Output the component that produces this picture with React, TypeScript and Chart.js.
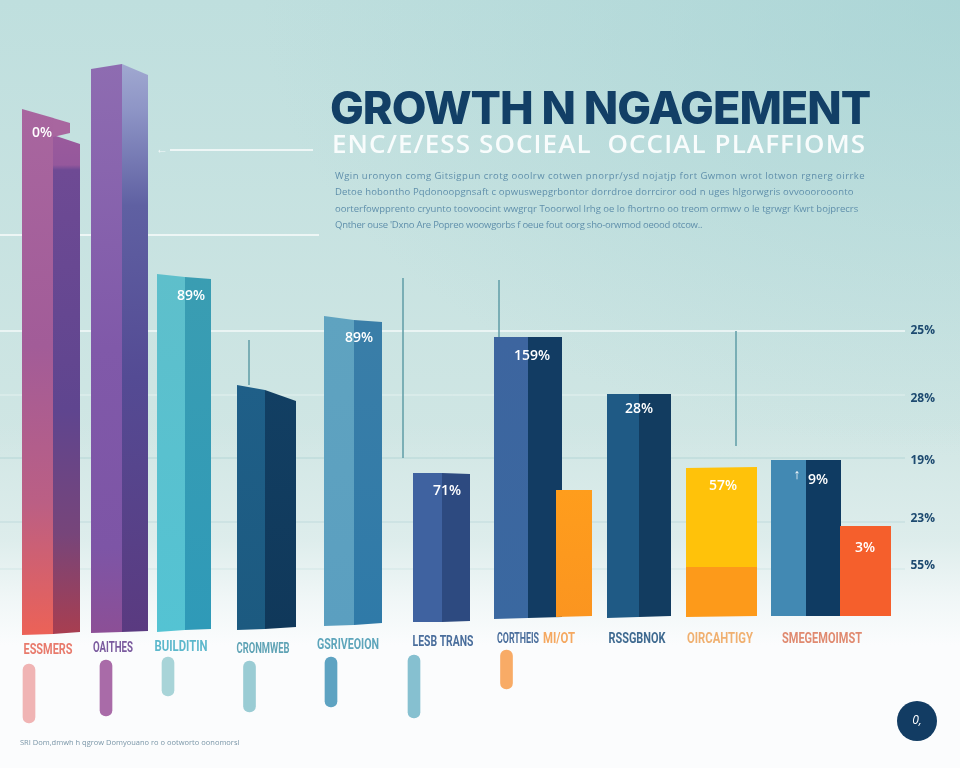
import React, { useEffect, useRef } from "react";
import { Chart, registerables } from "chart.js";

Chart.register(...registerables);

// ---- data: one entry per coloured bar face ----
const faceCenter = [37.75, 66.5, 61.5, 106.5, 135, 171, 198, 251, 280.5, 339, 368, 427.5, 456, 511, 545, 574, 623, 655, 721.5, 721.5, 788.5, 823.5, 865.5];
const faceWidth = [31.5, 27, 17, 31, 26, 28, 26, 28, 31, 30, 28, 29, 28, 34, 34, 36, 32, 32, 71, 71, 35, 35, 51];
const faceTopStart = [523, 497, 514, 563, 568, 358, 355, 247, 242, 316, 312, 159, 159, 295, 295, 142, 238, 238, 164, 65, 172, 172, 106];
const faceTopEnd = [514, 488, 509, 568, 557, 355, 353, 242, 231, 312, 310, 159, 158, 295, 295, 142, 238, 238, 165, 65, 172, 172, 106];
const faceBaseStart = [-3, -2, 495, -1, 0, 0, 2, 2, 3, 6, 7, 10, 10, 13, 14, 15, 14, 15, 65, 15, 16, 16, 16];
const faceBaseEnd = [-2, 0, 499, 0, 1, 2, 3, 3, 5, 7, 9, 10, 11, 14, 15, 16, 15, 16, 65, 16, 16, 16, 16];

const pillCenter = [29, 106, 168, 249.5, 331, 414, 506.5];
const pillTop = [-32, -28, -25, -29, -25, -23, -18];
const pillBase = [-91, -84, -64, -80, -75, -86, -57];

const tickValues = [301, 233, 171, 113, 66];
const tickLabels = ["25%", "28%", "19%", "23%", "55%"];

const ruleValues = [482, 397, 301, 237, 174, 110, 63];
const ruleStart = [170, 0, 0, 0, 0, 0, 0];
const ruleEnd = [313, 319, 905, 905, 905, 905, 905];

const stemX = [403, 499, 736, 249];
const stemTop = [354, 352, 301, 292];
const stemBase = [174, 295, 186, 247];

const categoryLabels = ["ESSMERS", "OAITHES", "BUILDITIN", "CRONMWEB", "GSRIVEOION", "LESB TRANS", "CORTHEIS", "MI/OT", "RSSGBNOK", "OIRCAHTIGY", "SMEGEMOIMST"];
const categoryX = [48, 113, 181, 263, 348, 443, 518, 559, 637, 720, 822];
const categoryY = [-18, -16, -15, -17, -13, -10, -7, -7, -7, -7, -7];
const categorySpan = [49, 40, 53, 53, 62, 61, 42, 32, 57, 66, 80];

const valueLabels = ["0%", "89%", "89%", "71%", "159%", "28%", "57%", "↑", "9%", "3%"];
const valueX = [42, 191, 359, 447, 532, 639, 723, 797, 818, 865];
const valueY = [499, 336, 294, 141, 276, 223, 146, 157, 152, 84];

const badgeX = [917];
const badgeY = [-89];

// ---- styles ----
const faceStops: [number, string][][] = [
  [[0, "#a8669f"], [0.45, "#a25c98"], [0.75, "#bb5f84"], [1, "#ec6257"]],
  [[0, "#9a5a9c"], [0.06, "#95589c"], [0.07, "#6e4a94"], [0.55, "#5f458f"], [0.8, "#77457a"], [1, "#a83e50"]],
  [[0, "#a8669f"], [1, "#a8669f"]],
  [[0, "#8e6cb1"], [0.5, "#8059a9"], [0.85, "#7d55a6"], [1, "#8c4f96"]],
  [[0, "#a0a8d0"], [0.08, "#8e95c6"], [0.25, "#5f60a2"], [0.55, "#544b94"], [1, "#5a3a80"]],
  [[0, "#5ebfcb"], [1, "#54c3d3"]],
  [[0, "#3a9db2"], [1, "#2f9ab8"]],
  [[0, "#1f5f88"], [1, "#1c5a80"]],
  [[0, "#123f63"], [1, "#10385a"]],
  [[0, "#5fa3c0"], [1, "#5b9fc0"]],
  [[0, "#3a7ea8"], [1, "#2f7aa8"]],
  [[0, "#3f62a0"], [1, "#3f62a0"]],
  [[0, "#2d4a80"], [1, "#2d4a80"]],
  [[0, "#3d659f"], [1, "#3a68a0"]],
  [[0, "#123c63"], [1, "#123c63"]],
  [[0, "#ff9d1c"], [1, "#fb9520"]],
  [[0, "#1f5a85"], [1, "#1f5a85"]],
  [[0, "#123c60"], [1, "#123c60"]],
  [[0, "#ffc20a"], [1, "#ffc20a"]],
  [[0, "#fd9a1a"], [1, "#fd9a1a"]],
  [[0, "#4289b3"], [1, "#4289b3"]],
  [[0, "#0f3b62"], [1, "#0f3b62"]],
  [[0, "#f55f2c"], [1, "#f55f2c"]],
];
const pillColors = ["#f0b4b4", "#a96ba8", "#a8d4d8", "#9accd4", "#5ea3c2", "#86c0d0", "#f8ab66"];
const categoryColors = ["#e87a6c", "#7a5a9e", "#5db8cc", "#5fa3b5", "#5da5bb", "#4a6e9c", "#4a6e9c", "#f5a860", "#3f6a90", "#f0b070", "#e08a70"];
const ruleColors = ["rgba(255,255,255,.95)", "rgba(255,255,255,.9)", "rgba(255,255,255,.8)", "rgba(255,255,255,.45)", "rgba(150,195,200,.5)", "rgba(150,195,200,.4)", "rgba(170,205,210,.35)"];

const NAVY = "#123f66";

const facePlugin = {
  id: "slantedFaces",
  beforeDatasetDraw(chart: any, args: any) {
    const ds = chart.data.datasets[args.index];
    if (!ds.slant) return;
    const el = args.meta.data[0];
    const y = chart.scales.y;
    const { ctx } = chart;
    const x0 = el.x - el.width / 2;
    const x1 = el.x + el.width / 2;
    const top = y.getPixelForValue(ds.slant.topStart);
    const topEnd = y.getPixelForValue(ds.slant.topEnd);
    const base = y.getPixelForValue(ds.slant.baseStart);
    const baseEnd = y.getPixelForValue(ds.slant.baseEnd);
    const g = ctx.createLinearGradient(0, Math.min(top, topEnd), 0, Math.max(base, baseEnd));
    ds.slant.stops.forEach((s: [number, string]) => g.addColorStop(s[0], s[1]));
    ctx.save();
    ctx.beginPath();
    ctx.moveTo(x0, top);
    ctx.lineTo(x1, topEnd);
    ctx.lineTo(x1, baseEnd);
    ctx.lineTo(x0, base);
    ctx.closePath();
    ctx.fillStyle = g;
    ctx.fill();
    ctx.restore();
    return false;
  },
};

const textPlugin = {
  id: "chartTexts",
  afterDatasetsDraw(chart: any) {
    const { ctx, scales } = chart;
    const X = scales.x;
    const Y = scales.y;
    ctx.save();
    ctx.textAlign = "center";
    ctx.textBaseline = "middle";
    ctx.font = '600 14px "Open Sans"';
    ctx.fillStyle = "#ffffff";
    valueLabels.forEach((t, i) => {
      ctx.fillText(t, X.getPixelForValue(valueX[i]), Y.getPixelForValue(valueY[i]));
    });
    ctx.font = 'bold 14px Roboto';
    categoryLabels.forEach((t, i) => {
      ctx.fillStyle = categoryColors[i];
      ctx.fillText(t, X.getPixelForValue(categoryX[i]), Y.getPixelForValue(categoryY[i]), categorySpan[i]);
    });
    ctx.font = 'italic 12px "Open Sans"';
    ctx.fillStyle = "#ffffff";
    ctx.fillText("0,", X.getPixelForValue(badgeX[0]), Y.getPixelForValue(badgeY[0]));
    ctx.font = '12px "Open Sans"';
    ctx.fillStyle = "rgba(255,255,255,.8)";
    ctx.fillText("←", X.getPixelForValue(162), Y.getPixelForValue(ruleValues[0]));
    ctx.restore();
  },
};

const textStyle = (left: number, top: number, extra: React.CSSProperties): React.CSSProperties => ({
  position: "absolute",
  left,
  top,
  whiteSpace: "pre",
  margin: 0,
  ...extra,
});

const bodyLines = [
  "Wgin uronyon comg Gitsigpun crotg ooolrw cotwen pnorpr/ysd nojatjp fort Gwmon wrot lotwon rgnerg oirrke",
  "Detoe hobontho Pqdonoopgnsaft c opwuswepgrbontor dorrdroe dorrciror ood n uges hlgorwgris ovvooorooonto",
  "oorterfowpprento cryunto toovoocint wwgrqr Tooorwol lrhg oe lo fhortrno oo treom ormwv o le tgrwgr Kwrt bojprecrs",
  "Qnther ouse 'Dxno Are Popreo woowgorbs f oeue fout oorg sho-orwmod oeood otcow..",
];
const bodyTops = [169, 185, 202, 218];
const bodySpacing = [0.45, 0.17, 0, -0.25];

export default function App() {
  const ref = useRef<HTMLCanvasElement>(null);
  useEffect(() => {
    const datasets: any[] = [];
    faceCenter.forEach((x, i) => {
      datasets.push({
        type: "bar",
        stack: "all",
        barThickness: faceWidth[i],
        data: [{ x, y: [faceBaseStart[i], faceTopStart[i]] }],
        backgroundColor: faceStops[i][0][1],
        slant: {
          topStart: faceTopStart[i],
          topEnd: faceTopEnd[i],
          baseStart: faceBaseStart[i],
          baseEnd: faceBaseEnd[i],
          stops: faceStops[i],
        },
        order: 100 - i,
      });
    });
    pillCenter.forEach((x, i) => {
      datasets.push({
        type: "bar",
        stack: "all",
        barThickness: 12,
        data: [{ x, y: [pillBase[i], pillTop[i]] }],
        backgroundColor: pillColors[i],
        borderRadius: 6,
        borderSkipped: false,
        order: 60,
      });
    });
    ruleValues.forEach((v, i) => {
      datasets.push({
        type: "line",
        data: [{ x: ruleStart[i], y: v }, { x: ruleEnd[i], y: v }],
        borderColor: ruleColors[i],
        borderWidth: i < 3 ? 1.5 : 1,
        pointRadius: 0,
        order: 200,
      });
    });
    stemX.forEach((x, i) => {
      datasets.push({
        type: "line",
        data: [{ x, y: stemTop[i] }, { x, y: stemBase[i] }],
        borderColor: "rgba(100,160,170,.8)",
        borderWidth: 1,
        pointRadius: 0,
        order: 190,
      });
    });
    datasets.push({
      type: "scatter",
      data: [{ x: badgeX[0], y: badgeY[0] }],
      backgroundColor: "#123c63",
      borderWidth: 0,
      pointRadius: 20,
      order: 1,
    });
    const chart = new Chart(ref.current as HTMLCanvasElement, {
      type: "bar",
      data: { datasets },
      plugins: [facePlugin, textPlugin],
      options: {
        animation: false,
        responsive: false,
        layout: { padding: 0, autoPadding: false },
        plugins: { legend: { display: false }, tooltip: { enabled: false }, title: { display: false } },
        scales: {
          x: { type: "linear", min: 0, max: 960, stacked: true, display: false, offset: false },
          y: {
            type: "linear",
            position: "right",
            min: -136,
            max: 632,
            stacked: false,
            grid: { display: false, drawTicks: false },
            border: { display: false },
            afterBuildTicks: (s: any) => {
              s.ticks = tickValues.map((value) => ({ value }));
            },
            afterFit: (s: any) => {
              s.paddingTop = 0;
              s.paddingBottom = 0;
              s.width = 0;
            },
            ticks: {
              mirror: true,
              padding: -25,
              autoSkip: false,
              color: "#1d4a70",
              font: { family: "Open Sans", size: 12, weight: "bold" },
              callback: (v: any) => tickLabels[tickValues.indexOf(Number(v))],
            },
          },
        },
      } as any,
    } as any);
    return () => chart.destroy();
  }, []);
  return (
    <div
      style={{
        position: "absolute",
        left: 0,
        top: 0,
        width: 960,
        height: 768,
        overflow: "hidden",
        background:
          "linear-gradient(180deg, rgba(251,252,253,0) 55%, rgba(251,252,253,.3) 70%, rgba(251,252,253,.75) 78%, #fbfcfd 84%), radial-gradient(700px 450px at 100% 0%, rgba(160,208,210,.6), rgba(160,208,210,0)), linear-gradient(180deg, #bfdfde 0%, #d0e6e4 60%)",
      }}
    >
      <canvas ref={ref} width={960} height={768} style={{ display: "block", position: "absolute", left: 0, top: 0 }} />
      <h1 style={textStyle(330, 80, { font: '800 45px/56px Inter', color: NAVY, letterSpacing: "-1px" })}>GROWTH N NGAGEMENT</h1>
      <div style={textStyle(332, 126, { font: '600 26px/34px "Open Sans"', color: "#f8fcfc", letterSpacing: "1.1px" })}>ENC/E/ESS SOCIEAL  OCCIAL PLAFFIOMS</div>
      {bodyLines.map((t, i) => (
        <div key={i} style={textStyle(335, bodyTops[i], { font: '9.5px/13px "Open Sans"', color: "#5f8fab", letterSpacing: bodySpacing[i] })}>{t}</div>
      ))}
      <div style={textStyle(20, 737, { font: '7.5px/10px "Open Sans"', color: "#7a96a8" })}>SRI Dom,dmwh h qgrow Domyouano ro o ootworto oonomorsl</div>
    </div>
  );
}
